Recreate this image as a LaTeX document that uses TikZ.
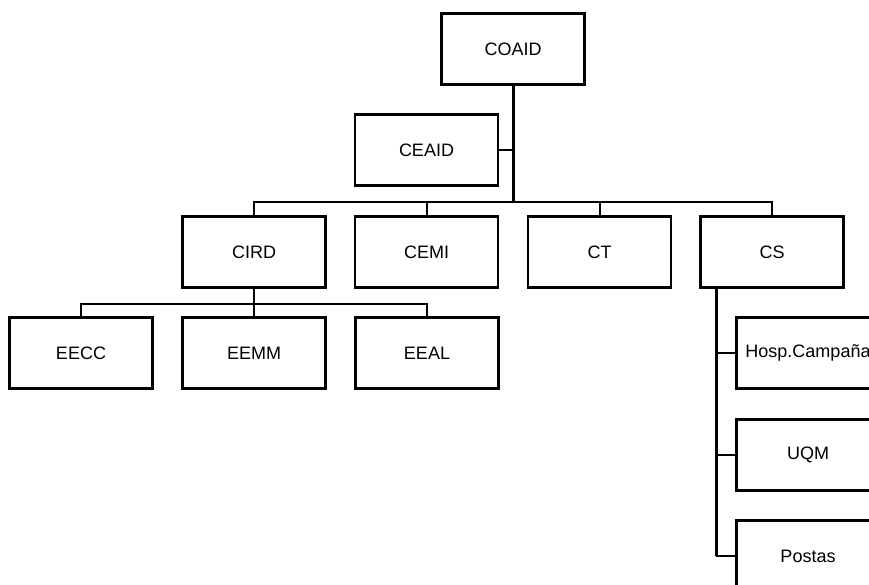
\documentclass[tikz,border=0pt]{standalone}
\usepackage{fontspec}
\setmainfont{Liberation Sans}

\begin{document}
\begin{tikzpicture}[x=1pt, y=-1pt,
	unit/.style={draw, line width=2.2pt, rectangle, minimum width=143pt, minimum height=71pt, inner sep=0pt, font=\fontsize{18}{20}\selectfont},
	link/.style={line width=2pt},
	trunk/.style={line width=3pt}]
	\clip (0,0) rectangle (869,585);

	\node[unit] (coaid) at (513,49) {COAID};
	\node[unit] (ceaid) at (426.5,150) {CEAID};

	\foreach \name/\txt/\x in {cird/CIRD/254, cemi/CEMI/426.5, ct/CT/599.5, cs/CS/772}
		\node[unit] (\name) at (\x,252) {\txt};

	\foreach \name/\txt/\x in {eecc/EECC/81, eemm/EEMM/254, eeal/EEAL/427}
		\node[unit] (\name) at (\x,353) {\txt};

	\foreach \name/\txt/\y in {hosp/Hosp.Campaña/353, uqm/UQM/455, postas/Postas/556}
		\node[unit] (\name) at (808,\y) {\txt};

	\coordinate (bus) at (513,202);
	\coordinate (bustwo) at (254,304);
	\coordinate (csdrop) at (716,287);

	\draw[trunk] (coaid.south) -- (bus);
	\draw[link] (ceaid.east) -- (ceaid.east -| coaid.south);
	\draw[link] (cird.north) |- (bus) -| (cs.north);
	\draw[link] (cemi.north) -- (cemi.north |- bus);
	\draw[link] (ct.north) -- (ct.north |- bus);

	\draw[link] (cird.south) -- (bustwo);
	\draw[link] (eecc.north) |- (bustwo) -| (eeal.north);
	\draw[link] (eemm.north) -- (bustwo);

	\draw[trunk] (csdrop) -- (csdrop |- postas.west);
	\foreach \name in {hosp, uqm, postas}
		\draw[link] (\name.west) -- (\name.west -| csdrop);
\end{tikzpicture}
\end{document}
